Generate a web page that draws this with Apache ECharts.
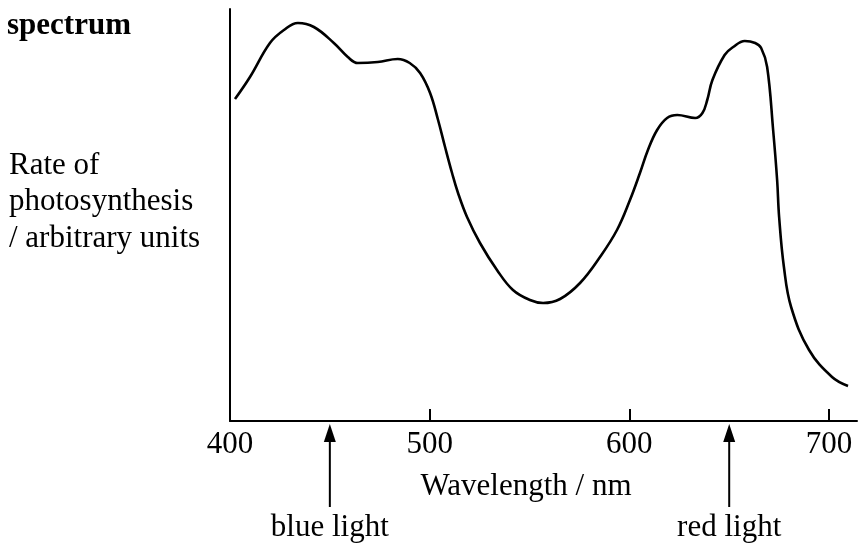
<!DOCTYPE html>
<html>
<head>
<meta charset="utf-8">
<script src="https://cdn.jsdelivr.net/npm/echarts@6/dist/echarts.min.js"></script>
<style>html,body{margin:0;padding:0;background:#fff}#c{width:859px;height:547px}</style>
</head>
<body>
<div id="c"></div>
<script>
// wavelength (nm)
var wavelengths = [402.5,410,420,427,434,442,452,459,464,474,484,490,495.2,500.2,504.2,507.7,511.2,514.2,518.7,525.2,533.7,541.7,550.2,556.8,565.3,575.3,585.3,593.8,600.3,605.3,609.3,613.9,618.9,624,633,636.6,639,641.6,647.7,652,657.8,663,666,669,672,674,675,677.4,681,690,701.5,709.5];
// rate of photosynthesis (arbitrary units)
var rates = [322,344,378,391,398,394,378,364,358,359,362,358,348,328,301,274,248,228,204,178,151,131,121,118,122,138,164,191,221,248,271,291,303,306,303,308,321,341,366,374,380,378,373,354,291,241,204,154,114,71,44,35];
var xTicks = [400,500,600,700];
var arrowWavelengths = [450, 650];
var arrowLabels = ['blue light', 'red light'];

var FONT = '"Liberation Serif","DejaVu Serif",serif';
var FS = 31;
var data = wavelengths.map(function(w,i){return [w, rates[i]];});

var chart = echarts.init(document.getElementById('c'));
chart.setOption({
  animation: false,
  backgroundColor: '#fff',
  grid: {left: 230, top: 9, width: 627, height: 412, containLabel: false},
  xAxis: {
    type: 'value', min: 400, max: 714, interval: 100,
    axisLine: {show: true, onZero: false, lineStyle: {color: '#000', width: 2}},
    axisTick: {show: true, inside: true, length: 12, lineStyle: {color: '#000', width: 2}},
    axisLabel: {
      show: true, margin: 8, color: '#000', fontFamily: FONT, fontSize: FS,
      showMaxLabel: false,
      formatter: function(v){ return xTicks.indexOf(v) >= 0 ? String(v) : ''; }
    },
    splitLine: {show: false}
  },
  yAxis: {
    type: 'value', min: 0, max: 412,
    axisLine: {show: true, lineStyle: {color: '#000', width: 2}},
    axisTick: {show: false}, axisLabel: {show: false}, splitLine: {show: false}
  },
  series: [{
    type: 'line', data: data, smooth: 0.4,
    showSymbol: false, symbol: 'none',
    lineStyle: {color: '#000', width: 2.6}
  }]
});

var graphics = [
  {type:'text', x: 7, y: 26, style:{text:'spectrum', font:'bold ' + FS + 'px ' + FONT, fill:'#000', verticalAlign:'middle'}},
  {type:'text', x: 9, y: 165.5, style:{text:'Rate of', font:FS + 'px ' + FONT, fill:'#000', verticalAlign:'middle'}},
  {type:'text', x: 9, y: 202, style:{text:'photosynthesis', font:FS + 'px ' + FONT, fill:'#000', verticalAlign:'middle'}},
  {type:'text', x: 9, y: 238.5, style:{text:'/ arbitrary units', font:FS + 'px ' + FONT, fill:'#000', verticalAlign:'middle'}},
  {type:'text', x: 526, y: 486.5, style:{text:'Wavelength / nm', font:FS + 'px ' + FONT, fill:'#000', align:'center', verticalAlign:'middle'}}
];
arrowWavelengths.forEach(function(w, i){
  var px = chart.convertToPixel({xAxisIndex: 0}, w);
  graphics.push({type:'line', shape:{x1:px, y1:507, x2:px, y2:436}, style:{stroke:'#000', lineWidth:2}});
  graphics.push({type:'polygon', shape:{points:[[px,424],[px-6,442],[px+6,442]]}, style:{fill:'#000'}});
  graphics.push({type:'text', x: px, y: 527.5, style:{text: arrowLabels[i], font:FS + 'px ' + FONT, fill:'#000', align:'center', verticalAlign:'middle'}});
});
chart.setOption({graphic: graphics});
</script>
</body>
</html>
